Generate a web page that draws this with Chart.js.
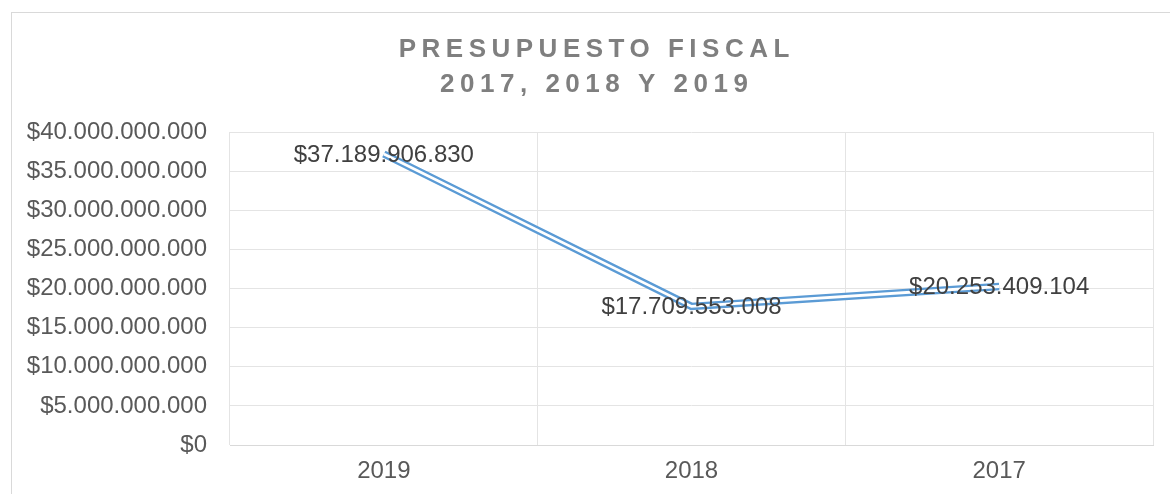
<!DOCTYPE html>
<html>
<head>
<meta charset="utf-8">
<script src="https://cdn.jsdelivr.net/npm/chart.js@4/dist/chart.umd.min.js"></script>
<style>
  html, body { margin: 0; padding: 0; background: #fff; overflow: hidden; }
  #marco {
    position: absolute; left: 11px; top: 12px;
    width: 1164px; height: 500px;
    border: 1px solid #d9d9d9;
  }
  canvas { display: block; }
</style>
</head>
<body>
<div id="marco"><canvas id="grafico" width="1164" height="500"></canvas></div>
<script>
// Datos del gráfico
const anios = ['2019', '2018', '2017'];
const presupuesto = [37189906830, 17709553008, 20253409104];
const ejeMin = 0;
const ejeMax = 40000000000;
const ejePaso = 5000000000;
const tituloLineas = ['PRESUPUESTO FISCAL', '2017, 2018 Y 2019'];

const fuente = "'Liberation Sans', Arial, sans-serif";
const azul = '#5B9BD5';

// Formato de moneda con puntos de miles
function formatoPesos(v) {
  return '$' + Math.round(v).toString().replace(/\B(?=(\d{3})+(?!\d))/g, '.');
}

// Título con espaciado entre letras (estilo Excel)
const tituloPlugin = {
  id: 'tituloEspaciado',
  afterDraw(chart) {
    const ctx = chart.ctx;
    ctx.save();
    ctx.font = 'bold 26px ' + fuente;
    ctx.fillStyle = '#7F7F7F';
    ctx.textAlign = 'center';
    ctx.textBaseline = 'middle';
    ctx.letterSpacing = '5.5px';
    const cx = chart.width / 2 + 2.75;
    ctx.fillText(tituloLineas[0], cx, 37);
    ctx.fillText(tituloLineas[1], cx, 71.5);
    ctx.restore();
  }
};

// Etiquetas de datos centradas sobre cada punto
const etiquetasPlugin = {
  id: 'etiquetasDatos',
  afterDatasetsDraw(chart) {
    const ctx = chart.ctx;
    const meta = chart.getDatasetMeta(1);
    ctx.save();
    ctx.font = '24px ' + fuente;
    ctx.fillStyle = '#404040';
    ctx.textAlign = 'center';
    ctx.textBaseline = 'middle';
    meta.data.forEach((pt, i) => {
      ctx.fillText(formatoPesos(presupuesto[i]), pt.x, pt.y + 1);
    });
    ctx.restore();
  }
};

const ctx = document.getElementById('grafico');
new Chart(ctx, {
  type: 'line',
  data: {
    labels: anios,
    datasets: [
      {
        // línea interior blanca (hace el efecto de línea doble)
        data: presupuesto,
        borderColor: '#ffffff',
        borderWidth: 2.8,
        pointRadius: 0,
        tension: 0,
        order: 0
      },
      {
        label: 'Presupuesto',
        data: presupuesto,
        borderColor: azul,
        borderWidth: 7.5,
        pointRadius: 0,
        tension: 0,
        order: 1
      }
    ]
  },
  options: {
    responsive: false,
    animation: false,
    devicePixelRatio: 1,
    layout: { padding: { top: 119, right: 23, bottom: 0, left: 0 } },
    plugins: {
      legend: { display: false },
      title: { display: false },
      tooltip: { enabled: false }
    },
    scales: {
      x: {
        offset: true,
        grid: { offset: true, color: '#E4E4E4', drawTicks: false },
        border: { color: '#D9D9D9' },
        ticks: { color: '#595959', font: { family: fuente, size: 24 }, padding: 12 },
        afterFit(scale) { scale.height = 68; }
      },
      y: {
        min: ejeMin,
        max: ejeMax,
        grid: { color: '#E4E4E4', drawTicks: false },
        border: { display: false },
        ticks: {
          stepSize: ejePaso,
          color: '#595959',
          font: { family: fuente, size: 24 },
          padding: 23,
          callback: v => formatoPesos(v)
        },
        afterFit(scale) { scale.width = 218; }
      }
    }
  },
  plugins: [tituloPlugin, etiquetasPlugin]
});
</script>
</body>
</html>
